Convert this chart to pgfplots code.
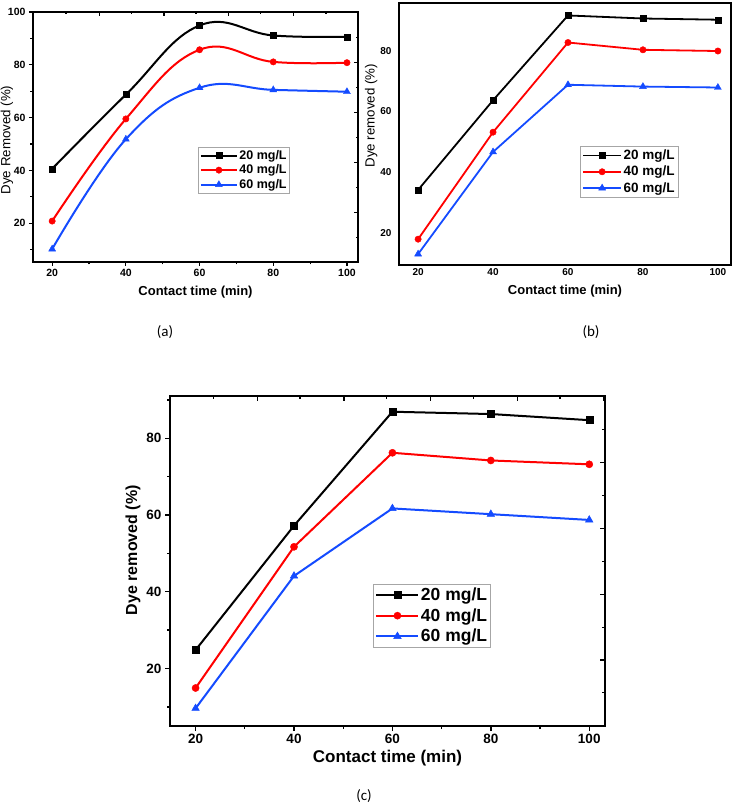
\documentclass[border=0pt]{standalone}
\usepackage{fontspec}
\setmainfont{Liberation Sans}
\newfontfamily\calib{Carlito}
\usepackage{pgfplots}
\pgfplotsset{compat=1.18}
\definecolor{myblue}{RGB}{20,75,255}
\definecolor{myred}{RGB}{255,0,0}
\pgfplotsset{
  base/.style={scale only axis, anchor=south west, clip=false,
    /pgf/number format/assume math mode=true,
    legend cell align=left,
    tick style={black}},
  twin/.style={scale only axis, anchor=south west,
    axis x line*=top, axis y line*=right,
    xticklabels={}, yticklabels={}, tick align=inside,
    tick style={black}},
  s1/.style={black, mark=square*, mark size=3pt, mark options={solid, line width=0.4pt}},
  s2/.style={myred, mark=*, mark size=3.2pt, mark options={solid, line width=0.4pt}},
  s3/.style={myblue, mark=triangle*, mark size=4pt, mark options={solid, line width=0.4pt}},
}
\begin{document}
\begin{tikzpicture}[x=1pt,y=1pt]
\useasboundingbox (0,0) rectangle (733,807);
% ---------------- (a) ----------------
\begin{axis}[base, at={(33pt,545pt)}, width=325pt, height=250pt,
  xmin=14.8, xmax=103, ymin=5.3, ymax=100,
  xtick={20,40,60,80,100}, ytick={20,40,60,80,100},
  minor xtick={30,50,70,90}, minor ytick={10,30,50,70,90},
  tick align=outside, xtick pos=bottom, ytick pos=left,
  major tick length=4pt, minor tick length=2.5pt,
  tick style={line width=1.2pt},
  axis line style={line width=1.6pt},
  ticklabel style={font=\fontsize{10.5}{12}\selectfont\bfseries},
  xlabel={Contact time (min)}, ylabel={Dye Removed (\%)},
  xlabel style={font=\fontsize{13}{15}\selectfont\bfseries, at={(axis description cs:0.5,-0.12)}, anchor=center},
  ylabel style={font=\fontsize{13.3}{15}\selectfont, at={(axis description cs:-0.08,0.488)}, anchor=center},
  legend style={at={(0.508,0.46)}, anchor=north west, draw=gray!70, line width=0.6pt,
    font=\fontsize{12.5}{13}\selectfont\bfseries, inner sep=1.5pt, row sep=1pt,
    nodes={inner sep=1.5pt}},
  legend image code/.code={\draw[mark repeat=2,mark phase=2] plot coordinates {(0pt,0pt) (18pt,0pt) (36pt,0pt)};},
]
\addplot[s1, line width=2pt, smooth, tension=0.7] coordinates {(20,40.6)(40,68.7)(60,94.9)(80,91.1)(100,90.6)};
\addplot[s2, line width=2pt, smooth, tension=0.7] coordinates {(20,20.8)(40,59.5)(60,85.7)(80,81.1)(100,80.8)};
\addplot[s3, line width=2pt, smooth, tension=0.7] coordinates {(20,10.2)(40,51.8)(60,71.3)(80,70.5)(100,69.8)};
\legend{20 mg/L, 40 mg/L, 60 mg/L}
\end{axis}
\begin{axis}[twin, at={(33pt,545pt)}, width=325pt, height=250pt,
  xmin=0, xmax=325, ymin=0, ymax=250,
  xtick={66.3,131,195.3,260.3}, minor xtick={33,98.7,163,227.7,293},
  ytick={49.7,99.7,149.7,199.7}, minor ytick={24.3,74.3,124.3,174.3,224.3},
  major tick length=4pt, minor tick length=2.5pt,
  tick style={line width=1.2pt}, axis line style={line width=1.6pt}]
\addplot[draw=none] coordinates {(0,0)};
\end{axis}
% ---------------- (b) ----------------
\begin{axis}[base, at={(399pt,542pt)}, width=332pt, height=262pt,
  xmin=14.9, xmax=103.5, ymin=9.5, ymax=95.7,
  xtick={20,40,60,80,100}, ytick={20,40,60,80},
  major tick length=0pt, minor tick length=0pt,
  axis line style={line width=2pt},
  ticklabel style={font=\fontsize{10}{12}\selectfont\bfseries},
  yticklabel style={xshift=-4pt},
  xlabel={Contact time (min)}, ylabel={Dye removed (\%)},
  xlabel style={font=\fontsize{13}{15}\selectfont\bfseries, at={(axis description cs:0.5,-0.10)}, anchor=center},
  ylabel style={font=\fontsize{13.3}{15}\selectfont, at={(axis description cs:-0.084,0.57)}, anchor=center},
  legend style={at={(0.545,0.454)}, anchor=north west, draw=gray!70, line width=0.6pt,
    font=\fontsize{13.5}{14}\selectfont\bfseries, inner sep=2pt, row sep=2pt,
    nodes={inner sep=1.5pt}},
  legend image code/.code={\draw[mark repeat=2,mark phase=2] plot coordinates {(0pt,0pt) (19pt,0pt) (38pt,0pt)};},
]
\addplot[s1, line width=1.8pt] coordinates {(20,34.2)(40,63.7)(60,91.6)(80,90.6)(100,90.2)};
\addplot[s2, line width=1.8pt] coordinates {(20,18)(40,53.2)(60,82.7)(80,80.3)(100,79.9)};
\addplot[s3, line width=1.8pt] coordinates {(20,13.1)(40,46.7)(60,68.8)(80,68.2)(100,67.9)};
\legend{20 mg/L, 40 mg/L, 60 mg/L}
\end{axis}
% ---------------- (c) ----------------
\begin{axis}[base, at={(170pt,81pt)}, width=435pt, height=330pt,
  xmin=14.8, xmax=103.2, ymin=5, ymax=91,
  xtick={20,40,60,80,100}, ytick={20,40,60,80},
  minor xtick={30,50,70,90}, minor ytick={10,30,50,70,90},
  tick align=outside, xtick pos=bottom, ytick pos=left,
  major tick length=5pt, minor tick length=3pt,
  tick style={line width=1.4pt},
  axis line style={line width=2pt},
  ticklabel style={font=\fontsize{13.5}{15}\selectfont\bfseries},
  xlabel={Contact time (min)}, ylabel={Dye removed (\%)},
  xlabel style={font=\fontsize{17}{19}\selectfont\bfseries, at={(axis description cs:0.5,-0.096)}, anchor=center},
  ylabel style={font=\fontsize{16}{18}\selectfont\bfseries, at={(axis description cs:-0.085,0.533)}, anchor=center},
  legend style={at={(0.467,0.43)}, anchor=north west, draw=gray!70, line width=0.6pt,
    font=\fontsize{17.5}{18}\selectfont\bfseries, inner sep=2pt, row sep=3.5pt,
    nodes={inner sep=1.5pt}},
  legend image code/.code={\draw[mark repeat=2,mark phase=2] plot coordinates {(0pt,0pt) (21pt,0pt) (42pt,0pt)};},
]
\addplot[s1, line width=2pt, mark size=3.5pt] coordinates {(20,24.8)(40,57.2)(60,86.9)(80,86.3)(100,84.7)};
\addplot[s2, line width=2pt, mark size=3.6pt] coordinates {(20,14.9)(40,51.7)(60,76.2)(80,74.2)(100,73.2)};
\addplot[s3, line width=2pt, mark size=4.4pt] coordinates {(20,9.6)(40,44.1)(60,61.7)(80,60.2)(100,58.7)};
\legend{20 mg/L, 40 mg/L, 60 mg/L}
\end{axis}
\begin{axis}[twin, at={(170pt,81pt)}, width=435pt, height=330pt,
  xmin=0, xmax=435, ymin=0, ymax=330,
  xtick={87.3,174,260.7,347.3,433.3}, minor xtick={43.3,130,216.7,303.3,390},
  ytick={66,131.7,197.7,263.3}, minor ytick={33.3,98.7,164.3,230.3,296.7},
  major tick length=5pt, minor tick length=3pt,
  tick style={line width=1.4pt}, axis line style={line width=2pt}]
\addplot[draw=none] coordinates {(0,0)};
\end{axis}
% captions
\node[font=\calib\fontsize{15}{17}\selectfont] at (165,475) {(a)};
\node[font=\calib\fontsize{15}{17}\selectfont] at (591,475) {(b)};
\node[font=\calib\fontsize{15}{17}\selectfont] at (364,11) {(c)};
\end{tikzpicture}
\end{document}
